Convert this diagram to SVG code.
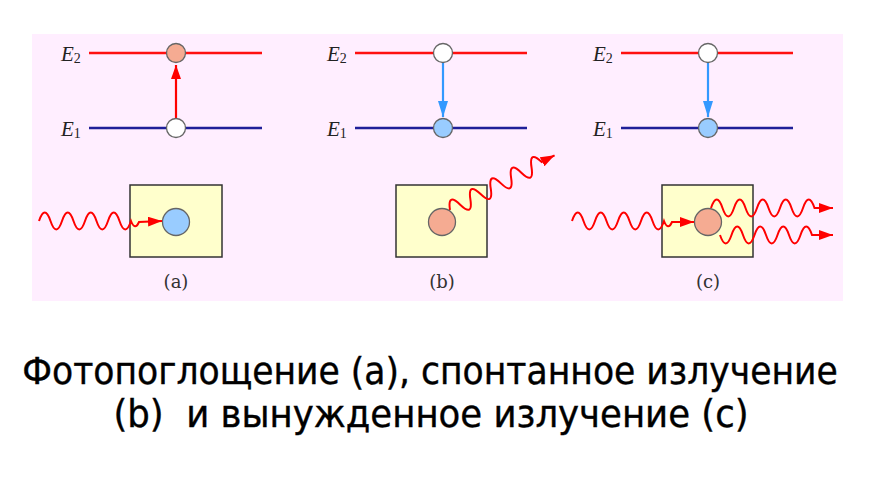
<svg xmlns="http://www.w3.org/2000/svg" width="880" height="481" viewBox="0 0 880 481">
<style>
.e2{stroke:#ff1010;stroke-width:2.5;fill:none}
.e1{stroke:#1f1f99;stroke-width:2.5;fill:none}
.at{stroke:#666;stroke-width:1.3}
.w{fill:#fff}
.o{fill:#f5ab92}
.b{fill:#99ccff}
.box{fill:#ffffcc;stroke:#333;stroke-width:1.5}
.wave{fill:none;stroke:#ff0000;stroke-width:2}
.lab{font-family:"Liberation Serif",serif;font-style:italic;font-size:21px;fill:#222}
.sub{font-size:14px;font-style:normal}
.cap{font-family:"DejaVu Serif",serif;font-size:18px;fill:#333;text-anchor:middle}
.big{font-family:"DejaVu Sans","Noto Sans",sans-serif;font-size:37px;fill:#000;stroke:#000;stroke-width:0.4;text-anchor:middle}
</style>
<defs>
<marker id="ar" viewBox="0 0 14 10" refX="14" refY="5" markerWidth="14" markerHeight="10" markerUnits="userSpaceOnUse" orient="auto"><path d="M0,0 L14,5 L0,10 z" fill="#ff0000"/></marker>
<marker id="ab" viewBox="0 0 16 10" refX="16" refY="5" markerWidth="16" markerHeight="10" markerUnits="userSpaceOnUse" orient="auto"><path d="M0,0 L16,5 L0,10 z" fill="#3399ff"/></marker>
</defs>
<rect x="32" y="34" width="811" height="267" fill="#ffeeff"/>

<g id="levels-a">
<line class="e2" x1="89" y1="53" x2="262" y2="53"/>
<line class="e1" x1="89" y1="128" x2="262" y2="128"/>
<text class="lab" x="61" y="61">E<tspan class="sub" dy="2">2</tspan></text>
<text class="lab" x="61" y="136">E<tspan class="sub" dy="2">1</tspan></text>
</g>
<g id="levels-b">
<line class="e2" x1="355" y1="53" x2="527" y2="53"/>
<line class="e1" x1="355" y1="128" x2="527" y2="128"/>
<text class="lab" x="327" y="61">E<tspan class="sub" dy="2">2</tspan></text>
<text class="lab" x="327" y="136">E<tspan class="sub" dy="2">1</tspan></text>
</g>
<g id="levels-c">
<line class="e2" x1="621" y1="53" x2="793" y2="53"/>
<line class="e1" x1="621" y1="128" x2="793" y2="128"/>
<text class="lab" x="593" y="61">E<tspan class="sub" dy="2">2</tspan></text>
<text class="lab" x="593" y="136">E<tspan class="sub" dy="2">1</tspan></text>
</g>

<g id="connectors">
<line x1="176" y1="118" x2="176" y2="65" stroke="#ff0000" stroke-width="2.2" marker-end="url(#ar)"/>
<line x1="443" y1="63" x2="443" y2="117" stroke="#3399ff" stroke-width="2.2" marker-end="url(#ab)"/>
<line x1="708" y1="63" x2="708" y2="117" stroke="#3399ff" stroke-width="2.2" marker-end="url(#ab)"/>
</g>

<g id="atoms-levels">
<circle class="o at" cx="176" cy="53" r="9.5"/>
<circle class="w at" cx="176" cy="128" r="9.5"/>
<circle class="w at" cx="443" cy="53" r="9.5"/>
<circle class="b at" cx="443" cy="128" r="9.5"/>
<circle class="w at" cx="708" cy="53" r="9.5"/>
<circle class="b at" cx="708" cy="128" r="9.5"/>
</g>

<g id="box-a">
<rect class="box" x="130" y="185" width="92" height="72"/>
<circle class="b at" cx="176" cy="222" r="13.5"/>
<text class="cap" x="176" y="288">(a)</text>
</g>
<g id="box-b">
<rect class="box" x="396" y="185" width="91" height="72"/>
<circle class="o at" cx="442" cy="222" r="13.5"/>
<text class="cap" x="442" y="288">(b)</text>
</g>
<g id="box-c">
<rect class="box" x="662" y="185" width="91" height="72"/>
<circle class="o at" cx="708" cy="222" r="13.5"/>
<text class="cap" x="708" y="288">(c)</text>
</g>

<g id="photons">
<path class="wave" marker-end="url(#ar)" d="M39,221 q5.75,-17 11.5,0 t11.5,0 t11.5,0 t11.5,0 t11.5,0 t11.5,0 t11.5,0 t11.5,0 q4,10 8,1 L162,221"/>
<path class="wave" marker-end="url(#ar)" transform="translate(450,210) rotate(-27.6)" d="M0,0 q5.75,-17 11.5,0 t11.5,0 t11.5,0 t11.5,0 t11.5,0 t11.5,0 t11.5,0 t11.5,0 t11.5,0 L118,0"/>
<path class="wave" marker-end="url(#ar)" d="M572,221 q5.75,-17 11.5,0 t11.5,0 t11.5,0 t11.5,0 t11.5,0 t11.5,0 t11.5,0 t11.5,0 q4,10 8,1 L694,222"/>
<path class="wave" marker-end="url(#ar)" d="M711,208 q5.75,-17 11.5,0 t11.5,0 t11.5,0 t11.5,0 t11.5,0 t11.5,0 t11.5,0 t11.5,0 t11.5,0 L833,208"/>
<path class="wave" marker-end="url(#ar)" d="M720,235 q5.75,17 11.5,0 t11.5,0 t11.5,0 t11.5,0 t11.5,0 t11.5,0 t11.5,0 t11.5,0 L833,235"/>
</g>

<g id="caption">
<text class="big" transform="translate(430,384) scale(0.935,1)" x="0" y="0">Фотопоглощение (a), спонтанное излучение</text>
<text class="big" transform="translate(431,427) scale(0.96,1)" x="0" y="0" xml:space="preserve">(b)  и вынужденное излучение (c)</text>
</g>
</svg>
